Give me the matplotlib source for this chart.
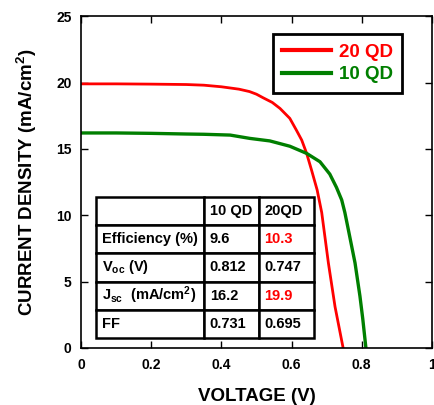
import numpy as np
import matplotlib
matplotlib.use("Agg")
import matplotlib.pyplot as plt

plt.rcParams['font.family'] = ['Liberation Sans', 'DejaVu Sans']
plt.rcParams['font.weight'] = 'bold'
plt.rcParams['axes.labelweight'] = 'bold'
plt.rcParams['mathtext.fontset'] = 'custom'
plt.rcParams['mathtext.rm'] = 'Liberation Sans:bold'
plt.rcParams['mathtext.it'] = 'Liberation Sans:bold'
plt.rcParams['mathtext.bf'] = 'Liberation Sans:bold'

# J-V curves
v_20qd = [0, 0.1, 0.2, 0.3, 0.35, 0.4, 0.45, 0.48, 0.5, 0.519, 0.545, 0.567, 0.595, 0.614, 0.629,
          0.643, 0.657, 0.673, 0.686, 0.705, 0.724, 0.747]
j_20qd = [19.9, 19.9, 19.88, 19.85, 19.8, 19.68, 19.5, 19.32, 19.12, 18.85, 18.5, 18.05, 17.3, 16.4, 15.66,
          14.66, 13.4, 11.9, 10.2, 6.4, 3.1, 0]
v_10qd = [0, 0.1, 0.2, 0.3, 0.35, 0.425, 0.481, 0.538, 0.595, 0.643, 0.681, 0.709, 0.728,
          0.743, 0.752, 0.762, 0.781, 0.795, 0.803, 0.812]
j_10qd = [16.2, 16.2, 16.17, 16.12, 16.1, 16.04, 15.79, 15.6, 15.2, 14.66, 14.03, 13.1, 12.1,
          11.15, 10.2, 8.9, 6.4, 3.9, 2.2, 0]

col_labels = ["", "10 QD", "20QD"]
row_labels = ["Efficiency (%)", "V$_{oc}$ (V)", "J$_{sc}$  (mA/cm$^2$)", "FF"]
vals_10qd = ["9.6", "0.812", "16.2", "0.731"]
vals_20qd = ["10.3", "0.747", "19.9", "0.695"]
red_cells = [(1, 2), (3, 2)]

fig = plt.figure(figsize=(4.34, 4.05), dpi=100)
ax = fig.add_axes([0.187, 0.141, 0.808, 0.819])

ax.plot(v_20qd, j_20qd, color='#ff0000', lw=2.0, label='20 QD')
ax.plot(v_10qd, j_10qd, color='#007f00', lw=2.4, label='10 QD')

ax.set_xlim(0, 1)
ax.set_ylim(0, 25)
ax.set_xticks([0, 0.2, 0.4, 0.6, 0.8, 1])
ax.set_xticklabels(["0", "0.2", "0.4", "0.6", "0.8", "1"])
ax.set_yticks([0, 5, 10, 15, 20, 25])
ax.tick_params(direction='in', top=True, right=True, length=5, width=1, labelsize=10, pad=7)
for s in ax.spines.values():
    s.set_linewidth(1.2)

ax.set_xlabel("VOLTAGE (V)", fontsize=13.5, labelpad=12)
ax.set_ylabel("CURRENT DENSITY (mA/cm$^2$)", fontsize=13.5, labelpad=12)

leg = ax.legend(loc='upper right', bbox_to_anchor=(0.915, 0.946), borderaxespad=0,
                fontsize=13.5, handlelength=2.6, handletextpad=0.4, fancybox=False,
                edgecolor='black', framealpha=1, borderpad=0.5, labelspacing=0.3)
leg.get_frame().set_linewidth(2)
for t, l in zip(leg.get_texts(), leg.get_lines()):
    t.set_color(l.get_color())
    l.set_linewidth(3)

cells = [col_labels] + [[r, a, b] for r, a, b in zip(row_labels, vals_10qd, vals_20qd)]
tab = ax.table(cellText=cells, cellLoc='left', colWidths=[0.495, 0.252, 0.252],
               bbox=[0.043, 0.030, 0.621, 0.425])
tab.auto_set_font_size(False)
for (r, c), cell in tab.get_celld().items():
    cell.set_linewidth(1.8)
    cell.set_facecolor('white')
    cell.PAD = 0.05 if c == 0 else 0.1
    txt = cell.get_text()
    txt.set_fontsize(10.5)
    txt.set_fontweight('bold')
    if (r, c) in red_cells:
        txt.set_color('#ff0000')

fig.savefig("out.png", dpi=100)
